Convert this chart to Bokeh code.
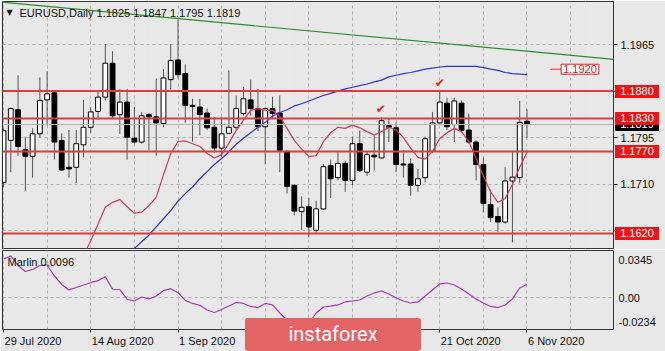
import numpy as np
from bokeh.plotting import figure
from bokeh.layouts import column
from bokeh.models import (Range1d, FixedTicker, Grid, Span, Label, PrintfTickFormatter,
                          ColumnDataSource, Div)
from bokeh.core.properties import value
from bokeh.embed import file_html
from bokeh.resources import INLINE

# ---------------- data ----------------
title_text = "EURUSD,Daily  1.1825 1.1847 1.1795 1.1819"
marlin_text = "Marlin 0.0096"
watermark_text = "instaforex"

date_ticks = [0, 12, 24, 36, 48, 60, 72]
date_labels = ["29 Jul 2020", "14 Aug 2020", "1 Sep 2020", "17 Sep 2020",
               "5 Oct 2020", "21 Oct 2020", "6 Nov 2020"]
grid_ticks = [0, 6, 12, 18, 24, 30, 36, 42, 48, 54, 60, 66, 72, 78, 84]

opens = [1.1713, 1.1790, 1.1846, 1.1773, 1.1761, 1.1802, 1.1864, 1.1877, 1.1790, 1.1741,
         1.1741, 1.1782, 1.1814, 1.1843, 1.1869, 1.1931, 1.1837, 1.1860, 1.1794, 1.1787,
         1.1837, 1.1833, 1.1821, 1.1901, 1.1937, 1.1912, 1.1854, 1.1851, 1.1840, 1.1814,
         1.1776, 1.1803, 1.1814, 1.1839, 1.1864, 1.1848, 1.1815, 1.1848, 1.1840, 1.1770,
         1.1708, 1.1660, 1.1669, 1.1626, 1.1665, 1.1744, 1.1722, 1.1748, 1.1717, 1.1784,
         1.1732, 1.1763, 1.1758, 1.1817, 1.1813, 1.1747, 1.1747, 1.1708, 1.1722, 1.1770,
         1.1822, 1.1858, 1.1819, 1.1858, 1.1809, 1.1787, 1.1746, 1.1673, 1.1651, 1.1641,
         1.1716, 1.1722, 1.1825]
highs = [1.1812, 1.1850, 1.1909, 1.1797, 1.1812, 1.1905, 1.1916, 1.1881, 1.1803, 1.1809,
         1.1809, 1.1864, 1.1850, 1.1880, 1.1966, 1.1953, 1.1884, 1.1884, 1.1851, 1.1842,
         1.1840, 1.1903, 1.1920, 1.1966, 1.2010, 1.1929, 1.1866, 1.1866, 1.1848, 1.1833,
         1.1833, 1.1918, 1.1872, 1.1888, 1.1901, 1.1884, 1.1850, 1.1870, 1.1872, 1.1772,
         1.1710, 1.1688, 1.1685, 1.1680, 1.1747, 1.1755, 1.1769, 1.1753, 1.1797, 1.1808,
         1.1769, 1.1799, 1.1832, 1.1830, 1.1823, 1.1772, 1.1757, 1.1738, 1.1797, 1.1842,
         1.1880, 1.1868, 1.1868, 1.1863, 1.1839, 1.1790, 1.1759, 1.1700, 1.1668, 1.1741,
         1.1769, 1.1862, 1.1847]
lows = [1.1705, 1.1732, 1.1762, 1.1697, 1.1722, 1.1795, 1.1817, 1.1755, 1.1735, 1.1722,
        1.1712, 1.1759, 1.1804, 1.1828, 1.1863, 1.1831, 1.1802, 1.1755, 1.1784, 1.1784,
        1.1772, 1.1762, 1.1814, 1.1883, 1.1903, 1.1822, 1.1788, 1.1799, 1.1809, 1.1767,
        1.1761, 1.1802, 1.1809, 1.1835, 1.1835, 1.1807, 1.1747, 1.1830, 1.1732, 1.1693,
        1.1653, 1.1627, 1.1613, 1.1622, 1.1663, 1.1685, 1.1717, 1.1696, 1.1708, 1.1732,
        1.1725, 1.1735, 1.1757, 1.1787, 1.1732, 1.1722, 1.1689, 1.1696, 1.1714, 1.1767,
        1.1818, 1.1809, 1.1787, 1.1805, 1.1784, 1.1717, 1.1659, 1.1641, 1.1623, 1.1638,
        1.1604, 1.1712, 1.1795]
closes = [1.1808, 1.1848, 1.1779, 1.1761, 1.1802, 1.1863, 1.1875, 1.1787, 1.1736, 1.1738,
          1.1784, 1.1814, 1.1842, 1.1869, 1.1931, 1.1835, 1.1860, 1.1796, 1.1787, 1.1835,
          1.1833, 1.1822, 1.1904, 1.1936, 1.1910, 1.1854, 1.1852, 1.1837, 1.1813, 1.1776,
          1.1802, 1.1814, 1.1848, 1.1866, 1.1848, 1.1815, 1.1848, 1.1839, 1.1772, 1.1706,
          1.1661, 1.1668, 1.1632, 1.1665, 1.1742, 1.1720, 1.1748, 1.1717, 1.1784, 1.1735,
          1.1764, 1.1760, 1.1826, 1.1814, 1.1746, 1.1745, 1.1708, 1.1720, 1.1793, 1.1822,
          1.1860, 1.1815, 1.1862, 1.1808, 1.1787, 1.1746, 1.1675, 1.1649, 1.1641, 1.1716,
          1.1723, 1.1823, 1.1819]

red_ma = [None] * 11 + [
    1.1580, 1.1607, 1.1637, 1.1668, 1.1677, 1.1682, 1.1669, 1.1657, 1.1659, 1.1671,
    1.1686, 1.1727, 1.1766, 1.1788, 1.1789, 1.1784, 1.1779, 1.1766, 1.1758, 1.1764,
    1.1785, 1.1808, 1.1827, 1.1845, 1.1848, 1.1845, 1.1845, 1.1834, 1.1812, 1.1790,
    1.1774, 1.1761, 1.1762, 1.1788, 1.1804, 1.1814, 1.1812, 1.1818, 1.1813, 1.1806,
    1.1800, 1.1806, 1.1814, 1.1809, 1.1795, 1.1776, 1.1759, 1.1756, 1.1770, 1.1793,
    1.1804, 1.1812, 1.1806, 1.1788, 1.1757, 1.1725, 1.1696, 1.1677, 1.1684, 1.1710,
    1.1741, 1.1769]
blue_ma = [None] * 17 + [
    1.1580, 1.1593, 1.1605,
    1.1617, 1.1632, 1.1647, 1.1662, 1.1679, 1.1693, 1.1705, 1.1720, 1.1733, 1.1746,
    1.1757, 1.1769, 1.1783, 1.1794, 1.1804, 1.1814, 1.1823, 1.1834, 1.1841, 1.1846,
    1.1853, 1.1857, 1.1862, 1.1867, 1.1872, 1.1876, 1.1880, 1.1884, 1.1887, 1.1890,
    1.1893, 1.1897, 1.1900, 1.1906, 1.1909, 1.1912, 1.1914, 1.1917, 1.1920, 1.1922,
    1.1924, 1.1925, 1.1925, 1.1925, 1.1925, 1.1925, 1.1923, 1.1920, 1.1918, 1.1914,
    1.1912, 1.1911, 1.1910]

trend_x = [-2, 86]
trend_y = [1.20445, 1.19355]

marlin = [0.0283, 0.0305, 0.0235, 0.0191, 0.0206, 0.0235, 0.0239, 0.0158, 0.0096, 0.0056,
          0.0074, 0.0092, 0.0109, 0.0124, 0.0153, 0.0061, 0.0059, -0.0012, -0.0025, 0.0004,
          -0.0010, 0.0012, 0.0051, 0.0065, 0.0036, -0.0021, -0.0043, -0.0056, -0.0091, -0.0109,
          -0.0087, -0.0062, -0.0036, -0.0043, -0.0065, -0.0073, -0.0043, -0.0054, -0.0113, -0.0164,
          -0.0201, -0.0227, -0.0190, -0.0113, -0.0069, -0.0062, -0.0054, -0.0032, -0.0025, -0.0018,
          0.0012, 0.0034, 0.0048, 0.0026, -0.0003, -0.0025, -0.0040, -0.0032, 0.0012, 0.0056,
          0.0100, 0.0107, 0.0092, 0.0063, 0.0026, -0.0010, -0.0040, -0.0065, -0.0073, -0.0054,
          -0.0010, 0.0070, 0.0096]

levels = [1.1880, 1.1830, 1.1770, 1.1620]
current_price = 1.1819
ma_label_value = 1.1920
price_ticks = [1.1625, 1.1710, 1.1795, 1.1880, 1.1965]
marlin_max = 0.0345
marlin_min = -0.0234
marlin_tick_labels = ["0.0345", "0.00", "-0.0234"]
check_x = [51.9, 60.0]
check_y = [1.18477, 1.18945]

# ---------------- styling / geometry ----------------
BG = "#e8e8e8"
FONT = "Liberation Sans"
GRID = "#b4b4b4"
W = 665
B_LEFT, B_RIGHT = 2, 52
P_TOP, P_H, P_BOT = 1, 247, 1
Q_TOP, Q_H, Q_BOT = 1, 79, 22
X0, X1 = -0.14, 83.9
Y0, Y1 = 1.15927, 1.20436
BAR_PX = (W - B_LEFT - B_RIGHT) / (X1 - X0)
P_HEIGHT = P_TOP + P_H + P_BOT

CHAR_W = {" ": 3.06, "l": 2.44, "J": 5.5, "t": 3.06, "O": 8.56, "N": 7.94,
          "S": 7.34, "A": 7.34, "c": 5.5, "v": 5.5}


def text_px(s):
    return sum(6.12 if ch.isdigit() else CHAR_W.get(ch, 6.12) for ch in s)


def price_to_canvas(pr):
    return P_TOP + (Y1 - pr) / (Y1 - Y0) * P_H


def overlay_box(text, cx_left, cy, w, h, bg, fg, font_px=11, font=FONT, radius=0, z=10):
    return Div(text=text, width=w, height=h, styles={
        "position": "absolute", "left": f"{cx_left:.0f}px", "top": f"{cy - h / 2:.0f}px",
        "background-color": bg, "color": fg, "font-family": font,
        "font-size": f"{font_px}px", "line-height": f"{h}px", "text-align": "center",
        "border-radius": f"{radius}px", "z-index": str(z), "overflow": "hidden",
        "margin": "0", "padding": "0"})


n = len(closes)
idx = np.arange(n)
o = np.array(opens); c = np.array(closes); h = np.array(highs); l = np.array(lows)
up = c >= o

xr = Range1d(X0, X1)

p = figure(width=W, height=P_HEIGHT, x_range=xr, y_range=Range1d(Y0, Y1),
           output_backend="svg", toolbar_location=None, x_axis_location=None,
           y_axis_location="right", min_border_left=B_LEFT, min_border_right=B_RIGHT,
           min_border_top=P_TOP, min_border_bottom=P_BOT)
p.background_fill_color = BG
p.border_fill_color = BG
p.outline_line_color = "#333333"
p.yaxis.ticker = FixedTicker(ticks=price_ticks)
p.yaxis.formatter = PrintfTickFormatter(format="%.4f")
p.yaxis.axis_line_color = None
p.yaxis.major_tick_in = 0
p.yaxis.major_tick_out = 4
p.yaxis.minor_tick_line_color = None
p.yaxis.major_label_text_font = FONT
p.yaxis.major_label_text_font_size = "11px"
p.yaxis.major_label_text_color = "#111111"
p.yaxis.major_label_standoff = 3
p.ygrid.grid_line_dash = "3 3"
p.ygrid.grid_line_color = GRID
p.add_layout(Grid(dimension=0, ticker=FixedTicker(ticks=grid_ticks),
                  grid_line_dash="3 3", grid_line_color=GRID))

src = ColumnDataSource(dict(x=idx, o=o, c=c, h=h, l=l,
                            top=np.maximum(o, c), bot=np.minimum(o, c),
                            fill=np.where(up, "white", "black")))
p.segment(x0="x", y0="l", x1="x", y1="h", source=src, line_color="#555555", line_width=1)
p.vbar(x="x", width=0.66, top="top", bottom="bot", source=src,
       fill_color="fill", line_color="black", line_width=1)

p.line(idx, np.array(red_ma, dtype=float), line_color="#d33a5e", line_width=1.2)
p.line(idx, np.array(blue_ma, dtype=float), line_color="#3434d0", line_width=1.2)
p.line(trend_x, trend_y, line_color="#2f8a2f", line_width=1.2)

p.add_layout(Span(location=current_price, dimension="width", line_color="#b8b8b8", line_width=1))
for lv in levels:
    p.add_layout(Span(location=lv, dimension="width", line_color="#de3c3c", line_width=2))

p.text(x=check_x, y=check_y, text=["\u2714"] * len(check_x), text_color="#e02424",
       text_font=value("DejaVu Sans"), text_font_size="12px",
       text_align="center", text_baseline="middle")

p.segment(x0=[75.2], y0=[ma_label_value], x1=[76.7], y1=[ma_label_value],
          line_color="#de3c3c", line_width=1)
p.add_layout(Label(x=76.7, y=ma_label_value, text=f"{ma_label_value:.4f}",
                   text_color="#e02020", text_font=FONT, text_font_size="11px",
                   text_align="left", text_baseline="middle",
                   background_fill_color="white", border_line_color="#e02020",
                   padding=dict(left=2, right=2, top=1, bottom=1)))

p.add_layout(Label(x=0.4, y=1.20235, text="\u25bc", text_color="#111111",
                   text_font="DejaVu Sans", text_font_size="8px",
                   text_align="left", text_baseline="middle"))
p.add_layout(Label(x=2.2, y=1.20235, text=title_text, text_color="#111111",
                   text_font=FONT, text_font_size="11px",
                   text_align="left", text_baseline="middle"))

# ---------------- lower panel ----------------
q = figure(width=W, height=Q_TOP + Q_H + Q_BOT, x_range=xr, y_range=Range1d(marlin_min, marlin_max),
           output_backend="svg", toolbar_location=None, y_axis_location="right",
           min_border_left=B_LEFT, min_border_right=B_RIGHT,
           min_border_top=Q_TOP, min_border_bottom=Q_BOT)
q.background_fill_color = BG
q.border_fill_color = BG
q.outline_line_color = "#333333"
span_m = marlin_max - marlin_min
m_tick_pos = [marlin_max - span_m * 0.115, 0.0, marlin_min + span_m * 0.09]
q.yaxis.ticker = FixedTicker(ticks=m_tick_pos)
q.yaxis.major_label_overrides = dict(zip(m_tick_pos, marlin_tick_labels))
q.yaxis.axis_line_color = None
q.yaxis.major_tick_in = 0
q.yaxis.major_tick_out = 0
q.yaxis.minor_tick_line_color = None
q.yaxis.major_label_text_font = FONT
q.yaxis.major_label_text_font_size = "11px"
q.yaxis.major_label_text_color = "#111111"
q.yaxis.major_label_standoff = 5
q.ygrid.ticker = FixedTicker(ticks=[0.0])
q.ygrid.grid_line_dash = "3 3"
q.ygrid.grid_line_color = GRID

label_pos = [t + (text_px(s) / 2 + 1) / BAR_PX for t, s in zip(date_ticks, date_labels)]
q.xaxis.ticker = FixedTicker(ticks=label_pos, minor_ticks=date_ticks)
q.xaxis.major_label_overrides = dict(zip(label_pos, date_labels))
q.xaxis.axis_line_color = None
q.xaxis.major_tick_line_color = None
q.xaxis.major_tick_in = 0
q.xaxis.major_tick_out = 3
q.xaxis.minor_tick_in = 0
q.xaxis.minor_tick_out = 3
q.xaxis.minor_tick_line_color = "#333333"
q.xaxis.major_label_text_font = FONT
q.xaxis.major_label_text_font_size = "11px"
q.xaxis.major_label_text_color = "#111111"
q.xaxis.major_label_standoff = 2
q.xgrid.ticker = FixedTicker(ticks=grid_ticks)
q.xgrid.grid_line_dash = "3 3"
q.xgrid.grid_line_color = GRID

q.line(idx, marlin, line_color="#a23fa8", line_width=1.2)
q.add_layout(Label(x=0.55, y=0.0261, text=marlin_text, text_color="#111111",
                   text_font=FONT, text_font_size="11px",
                   text_align="left", text_baseline="middle"))

# ---------------- overlays: price boxes on the axis and the watermark ----------------
box_left = W - B_RIGHT + 2
overlays = [overlay_box(f"{current_price:.4f}", box_left, price_to_canvas(current_price) + 0.5,
                        44, 13, "#000000", "white", z=10)]
for lv in levels:
    overlays.append(overlay_box(f"{lv:.4f}", box_left, price_to_canvas(lv) + 0.5,
                                44, 13, "#ee1414", "white", z=11))
overlays.append(overlay_box(watermark_text, 245, P_HEIGHT + 86, 176, 33, "#e26464", "white",
                            font_px=20, font="Roboto", radius=3, z=12))

layout = column(p, q, *overlays, spacing=0)
open("out.html", "w").write(file_html(layout, INLINE))
